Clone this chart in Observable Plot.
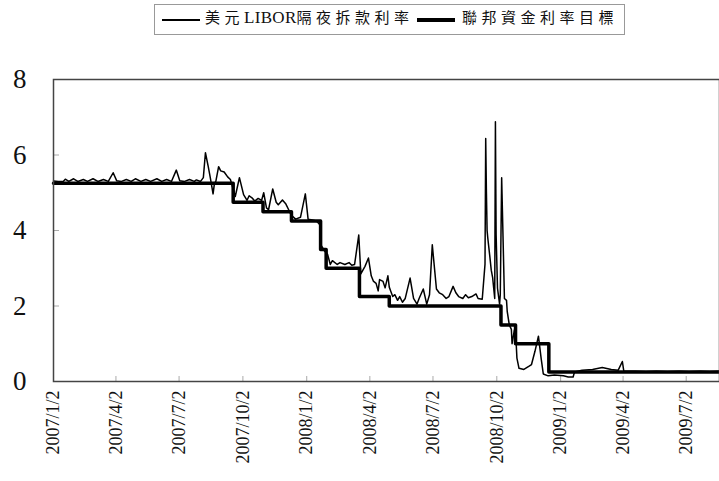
<!DOCTYPE html>
<html><head><meta charset="utf-8">
<script src="https://cdn.jsdelivr.net/npm/d3@7"></script>
<script src="https://cdn.jsdelivr.net/npm/@observablehq/plot@0.6"></script>
<style>
body{margin:0;background:#fff;}
#wrap{position:relative;width:719px;height:481px;overflow:hidden;background:#fff;}
#legend{position:relative;height:42px;}
#box{position:absolute;left:154px;top:4px;width:471px;height:31px;border:1px solid #999;box-sizing:border-box;background:#fff;}
.sw{position:absolute;background:#000;}
.tx{position:absolute;top:8px;font-family:"Liberation Serif","Noto Sans CJK TC",serif;font-size:15px;line-height:18px;color:#111;white-space:nowrap;}
.cj{letter-spacing:4.5px;font-family:"Noto Sans CJK TC",sans-serif;}
.lat{font-size:17px;letter-spacing:0.3px;}
</style></head>
<body>
<div id="wrap">
<div id="legend">
  <div id="box"></div>
  <div class="sw" style="left:162px;top:19px;width:38px;height:1.5px;"></div>
  <div class="tx" style="left:205px;"><span class="cj">美元</span><span class="lat">LIBOR</span><span class="cj">隔夜拆款利率</span></div>
  <div class="sw" style="left:417px;top:18px;width:38px;height:3.5px;"></div>
  <div class="tx" style="left:462px;"><span class="cj">聯邦資金利率目標</span></div>
</div>
<div id="chart"></div>
</div>
<script>
const liborDates = ["2007-01-02","2007-01-09","2007-01-16","2007-01-19","2007-01-24","2007-01-31","2007-02-06","2007-02-14","2007-02-20","2007-02-28","2007-03-07","2007-03-15","2007-03-22","2007-03-29","2007-04-03","2007-04-10","2007-04-17","2007-04-24","2007-04-30","2007-05-08","2007-05-15","2007-05-22","2007-05-31","2007-06-07","2007-06-14","2007-06-21","2007-06-28","2007-07-03","2007-07-10","2007-07-17","2007-07-24","2007-07-27","2007-08-02","2007-08-06","2007-08-09","2007-08-13","2007-08-16","2007-08-20","2007-08-22","2007-08-24","2007-08-28","2007-08-31","2007-09-05","2007-09-10","2007-09-14","2007-09-18","2007-09-21","2007-09-27","2007-10-03","2007-10-08","2007-10-11","2007-10-16","2007-10-19","2007-10-24","2007-10-29","2007-11-01","2007-11-05","2007-11-08","2007-11-14","2007-11-19","2007-11-22","2007-11-28","2007-12-03","2007-12-07","2007-12-11","2007-12-17","2007-12-24","2007-12-31","2008-01-04","2008-01-10","2008-01-16","2008-01-21","2008-01-23","2008-01-28","2008-02-01","2008-02-05","2008-02-08","2008-02-15","2008-02-19","2008-02-26","2008-03-03","2008-03-07","2008-03-11","2008-03-17","2008-03-20","2008-03-26","2008-03-31","2008-04-04","2008-04-07","2008-04-11","2008-04-14","2008-04-16","2008-04-21","2008-04-24","2008-04-28","2008-04-30","2008-05-02","2008-05-05","2008-05-08","2008-05-12","2008-05-15","2008-05-19","2008-05-23","2008-05-30","2008-06-04","2008-06-09","2008-06-12","2008-06-18","2008-06-23","2008-06-27","2008-07-01","2008-07-07","2008-07-11","2008-07-16","2008-07-21","2008-07-25","2008-07-31","2008-08-04","2008-08-08","2008-08-14","2008-08-18","2008-08-22","2008-08-27","2008-09-02","2008-09-05","2008-09-11","2008-09-15","2008-09-16","2008-09-17","2008-09-18","2008-09-19","2008-09-22","2008-09-24","2008-09-26","2008-09-29","2008-09-30","2008-10-01","2008-10-03","2008-10-06","2008-10-07","2008-10-09","2008-10-13","2008-10-16","2008-10-17","2008-10-20","2008-10-23","2008-10-24","2008-10-27","2008-10-28","2008-10-30","2008-10-31","2008-11-03","2008-11-10","2008-11-17","2008-11-21","2008-11-26","2008-12-01","2008-12-05","2008-12-08","2008-12-15","2008-12-24","2009-01-06","2009-01-13","2009-01-20","2009-01-22","2009-02-02","2009-02-17","2009-03-03","2009-03-16","2009-03-26","2009-04-01","2009-04-03","2009-04-20","2009-05-05","2009-05-20","2009-06-05","2009-06-22","2009-07-06","2009-07-22","2009-08-05","2009-08-19"];
const liborValues = [5.31,5.30,5.30,5.36,5.30,5.37,5.30,5.35,5.30,5.37,5.30,5.35,5.30,5.53,5.32,5.30,5.35,5.30,5.37,5.30,5.35,5.30,5.37,5.30,5.35,5.30,5.60,5.32,5.30,5.35,5.30,5.34,5.30,5.40,6.06,5.70,5.40,4.97,5.25,5.30,5.69,5.58,5.55,5.42,5.35,5.10,4.90,5.40,4.95,4.80,4.92,4.85,4.78,4.85,4.80,5.00,4.60,4.55,5.10,4.75,4.68,4.81,4.70,4.55,4.40,4.30,4.35,4.97,4.30,4.28,4.25,4.15,3.60,3.45,3.37,3.10,3.20,3.10,3.15,3.10,3.15,3.08,3.10,3.88,2.85,3.05,3.27,2.80,2.66,2.60,2.40,2.70,2.65,2.48,2.80,2.50,2.40,2.25,2.30,2.15,2.25,2.10,2.20,2.74,2.20,2.05,2.20,2.45,2.05,2.30,3.62,2.45,2.35,2.30,2.20,2.25,2.52,2.35,2.25,2.20,2.30,2.22,2.25,2.32,2.20,2.18,3.11,6.44,5.03,4.00,3.80,3.30,2.95,2.75,2.20,6.88,3.90,2.47,2.05,2.30,5.40,2.20,2.15,1.86,1.50,1.38,1.00,1.33,1.40,0.98,0.62,0.35,0.32,0.40,0.45,0.80,1.20,0.60,0.20,0.15,0.17,0.15,0.12,0.12,0.25,0.30,0.32,0.37,0.32,0.30,0.53,0.28,0.27,0.26,0.27,0.26,0.27,0.26,0.27,0.26,0.27];

const fedDates = ["2007-01-02","2007-09-18","2007-10-31","2007-12-11","2008-01-22","2008-01-30","2008-03-18","2008-04-30","2008-10-08","2008-10-29","2008-12-16","2009-08-19"];
const fedValues = [5.25,4.75,4.50,4.25,3.50,3.00,2.25,2.00,1.50,1.00,0.25,0.25];

const xTickDates = ["2007-01-02","2007-04-02","2007-07-02","2007-10-02","2008-01-02","2008-04-02","2008-07-02","2008-10-02","2009-01-02","2009-04-02","2009-07-02"];
const yTicks = [0,2,4,6,8];

const libor = liborDates.map((d,i)=>({date:new Date(d), value:liborValues[i]}));
const fed = fedDates.map((d,i)=>({date:new Date(d), value:fedValues[i]}));
const xTicks = xTickDates.map(d=>new Date(d));
const fmt = d => `${d.getUTCFullYear()}/${d.getUTCMonth()+1}/${d.getUTCDate()}`;

const chart = Plot.plot({
  width: 719,
  height: 439,
  marginTop: 37,
  marginBottom: 100,
  marginLeft: 53,
  marginRight: 0,
  style: {fontFamily: "Liberation Serif, serif", background: "#fff", color: "#111"},
  x: {type: "utc", domain: [new Date("2007-01-02"), new Date("2009-08-19")]},
  y: {domain: [0, 8]},
  marks: [
    Plot.axisY({ticks: [2,4,6], tickSize: -6, stroke: "#aaa", fill: "none", label: null}),
    Plot.axisX({ticks: xTicks, tickSize: -5, stroke: "#aaa", fill: "none", label: null}),
    Plot.line(fed, {x: "date", y: "value", curve: "step-after", stroke: "#000", strokeWidth: 3.5}),
    Plot.line(libor, {x: "date", y: "value", stroke: "#000", strokeWidth: 1.5}),
    Plot.frame({stroke: "#444", strokeWidth: 1.5}),
    Plot.axisY({ticks: yTicks, tickSize: 0, tickPadding: 27, fontSize: 27, label: null, tickFormat: d => String(d)}),
    Plot.axisX({ticks: xTicks, tickSize: 0, tickPadding: 9, tickRotate: -90, fontSize: 18, label: null, tickFormat: fmt})
  ]
});
document.getElementById("chart").appendChild(chart);
</script>
</body></html>
